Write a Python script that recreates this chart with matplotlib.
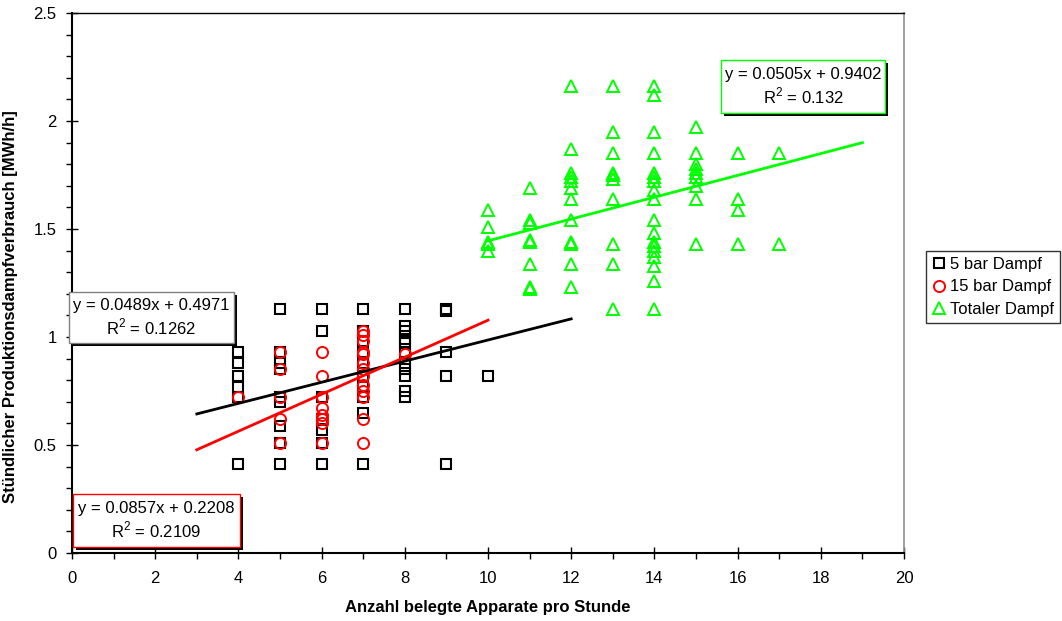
import numpy as np
import matplotlib
matplotlib.use("Agg")
import matplotlib.pyplot as plt
from matplotlib.patches import Rectangle
from matplotlib.ticker import MultipleLocator, FuncFormatter

plt.rcParams['font.family'] = ['Liberation Sans', 'DejaVu Sans']

# hourly steam use per number of occupied apparatus (x -> list of y values)
steam_5bar = {
    4: [0.93, 0.88, 0.82, 0.77, 0.72, 0.41],
    5: [1.13, 0.93, 0.88, 0.85, 0.72, 0.70, 0.59, 0.51, 0.41],
    6: [1.13, 1.03, 0.72, 0.62, 0.57, 0.51, 0.41],
    7: [1.13, 1.03, 0.98, 0.93, 0.88, 0.82, 0.77, 0.72, 0.65, 0.41],
    8: [1.13, 1.05, 1.03, 0.99, 0.97, 0.93, 0.88, 0.85, 0.82, 0.75, 0.72],
    9: [1.13, 1.12, 0.93, 0.82, 0.41],
    10: [0.82],
}
steam_15bar = {
    4: [0.72],
    5: [0.93, 0.85, 0.72, 0.62, 0.51],
    6: [0.93, 0.82, 0.72, 0.67, 0.64, 0.62, 0.60, 0.51],
    7: [1.03, 1.01, 0.98, 0.93, 0.92, 0.88, 0.85, 0.82, 0.78, 0.75, 0.72, 0.62, 0.51],
    8: [0.92],
}
steam_total = {
    10: [1.59, 1.51, 1.44, 1.43, 1.40],
    11: [1.69, 1.54, 1.53, 1.45, 1.44, 1.34, 1.23, 1.22],
    12: [2.16, 1.87, 1.76, 1.74, 1.72, 1.69, 1.64, 1.54, 1.44, 1.43, 1.34, 1.23],
    13: [2.16, 1.95, 1.85, 1.76, 1.75, 1.73, 1.64, 1.43, 1.34, 1.13],
    14: [2.16, 2.12, 1.95, 1.85, 1.76, 1.74, 1.72, 1.68, 1.64, 1.54, 1.48, 1.44,
         1.42, 1.40, 1.37, 1.33, 1.26, 1.13],
    15: [1.97, 1.85, 1.80, 1.78, 1.76, 1.74, 1.70, 1.64, 1.43],
    16: [1.85, 1.64, 1.59, 1.43],
    17: [1.85, 1.43],
}

# linear trend lines: slope, intercept, x range
trend_5bar = (0.0489, 0.4971, 3, 12)
trend_15bar = (0.0857, 0.2208, 3, 10)
trend_total = (0.0505, 0.9402, 10, 19)
labels = ['5 bar Dampf', '15 bar Dampf', 'Totaler Dampf']
eq_5bar = 'y = 0.0489x + 0.4971\nR$^2$ = 0.1262'
eq_15bar = 'y = 0.0857x + 0.2208\nR$^2$ = 0.2109'
eq_total = 'y = 0.0505x + 0.9402\nR$^2$ = 0.132'

plt.rcParams['mathtext.fontset'] = 'custom'
plt.rcParams['mathtext.rm'] = 'Liberation Sans'

W, H = 1062, 621
fig = plt.figure(figsize=(W / 100, H / 100), dpi=100)
ax = fig.add_axes([72 / W, (H - 553) / H, (904 - 72) / W, (553 - 13) / H])


def flat(d):
    xs = [x for x, ys in d.items() for _ in ys]
    ys = [y for ys in d.values() for y in ys]
    return xs, ys


series = [
    (steam_5bar, trend_5bar, 's', 'black', 7.4, 1.5),
    (steam_15bar, trend_15bar, 'o', '#ff0000', 8, 1.4),
    (steam_total, trend_total, '^', '#00ff00', 8.5, 1.4),
]
for (data, trend, mk, col, ms, mw), lab in zip(series, labels):
    xs, ys = flat(data)
    ax.plot(xs, ys, ls='none', marker=mk, ms=ms, mfc='none', mec=col, mew=mw,
            label=lab, zorder=3)
for data, trend, mk, col, ms, mw in series:
    k, d, x0, x1 = trend
    xx = np.array([x0, x1])
    ax.plot(xx, k * xx + d, color=col, lw=2, zorder=4)

ax.set_xlim(0, 20)
ax.set_ylim(0, 2.5)
ax.xaxis.set_major_locator(MultipleLocator(2))
ax.xaxis.set_minor_locator(MultipleLocator(1))
ax.yaxis.set_major_locator(MultipleLocator(0.5))
ax.yaxis.set_minor_locator(MultipleLocator(0.1))
ax.yaxis.set_major_formatter(FuncFormatter(lambda v, p: '%g' % v))
ax.tick_params(which='major', direction='inout', length=8, width=1, labelsize=12)
ax.tick_params(which='minor', direction='out', length=4, width=1)
ax.tick_params(axis='y', pad=7)
ax.tick_params(axis='x', pad=9)
for s in ['left', 'bottom']:
    ax.spines[s].set_linewidth(1.5)
ax.spines['top'].set_linewidth(1)
ax.spines['right'].set_color('#909090')
ax.spines['right'].set_linewidth(1.2)

ax.set_xlabel('Anzahl belegte Apparate pro Stunde', fontsize=12,
              fontweight='bold', labelpad=10)
ax.set_ylabel('Stündlicher Produktionsdampfverbrauch [MWh/h]', fontsize=12,
              fontweight='bold')
ax.yaxis.set_label_coords(-0.065, 0.457)

leg = ax.legend(loc='upper left', bbox_to_anchor=(926 / W, 1 - 251 / H),
                bbox_transform=fig.transFigure, fontsize=12, frameon=True,
                fancybox=False, borderaxespad=0, handlelength=0.8,
                handletextpad=0.3, borderpad=0.35, labelspacing=0.45)
leg.get_frame().set_edgecolor('black')
leg.get_frame().set_linewidth(1)


def eq_box(x0, y0, x1, y1, txt, ec):
    fx, fy = x0 / W, 1 - y1 / H
    fw, fh = (x1 - x0) / W, (y1 - y0) / H
    fig.add_artist(Rectangle((fx + 3 / W, fy - 3 / H), fw, fh,
                             transform=fig.transFigure, fc='black', ec='none',
                             zorder=5))
    fig.add_artist(Rectangle((fx, fy), fw, fh, transform=fig.transFigure,
                             fc='white', ec=ec, lw=1, zorder=6))
    fig.text((x0 + x1) / 2 / W, 1 - (y0 + y1) / 2 / H, txt, ha='center',
             va='center', ma='center', fontsize=12, zorder=7, linespacing=1.25)


eq_box(721, 60, 885, 113, eq_total, '#00ff00')
eq_box(69, 292, 234, 343, eq_5bar, '#808080')
eq_box(73, 494, 240, 547, eq_15bar, '#ff0000')

fig.savefig('out.png', dpi=100)
